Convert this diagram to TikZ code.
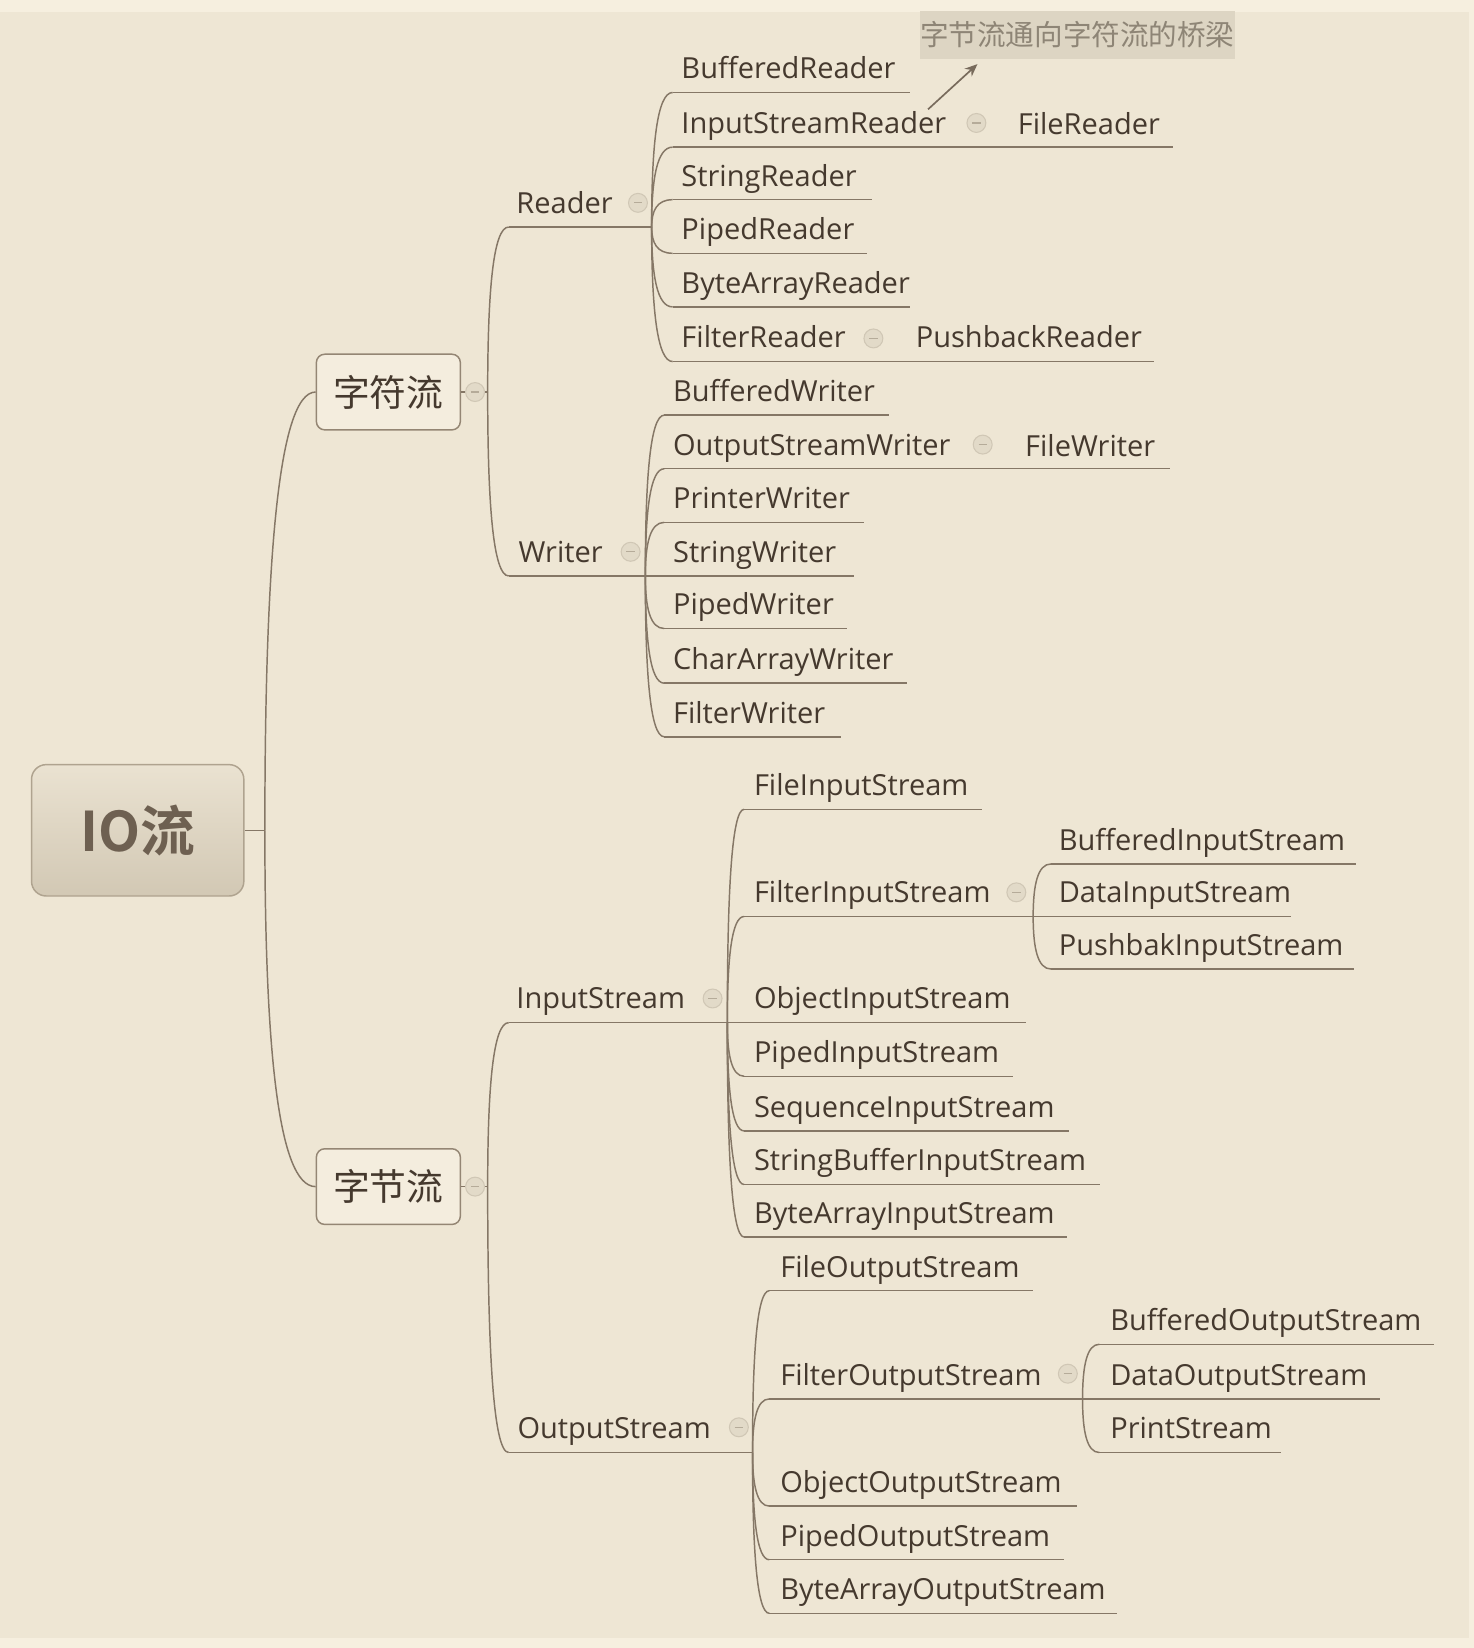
\documentclass[tikz,border=0pt]{standalone}
\usepackage{fontspec}
\setmainfont{Open Sans}
\newfontfamily\cjk{Noto Sans CJK SC}
\newfontfamily\cjkb{Noto Sans CJK SC Bold}
\usetikzlibrary{calc,arrows.meta}
\definecolor{bgc}{HTML}{EEE6D4}
\definecolor{stripc}{HTML}{F6EFDF}
\definecolor{linec}{HTML}{857766}
\definecolor{txtc}{HTML}{45392E}
\definecolor{anntxt}{HTML}{8E8576}
\definecolor{annbox}{HTML}{DDD5C3}
\definecolor{subfill}{HTML}{F4EDDE}
\definecolor{subdraw}{HTML}{948674}
\definecolor{roottop}{HTML}{EAE2D1}
\definecolor{rootbot}{HTML}{D2C8B4}
\definecolor{rootdraw}{HTML}{AFA38F}
\definecolor{roottxt}{HTML}{6E6051}
\definecolor{mkfill}{HTML}{E2DAC8}
\definecolor{mkdraw}{HTML}{D0C7B5}
\definecolor{mkminus}{HTML}{B5AB99}
\tikzset{
  conn/.style={draw=linec, line width=0.7pt},
  lbl/.style={anchor=base west, inner sep=0pt, text=txtc, font=\fontsize{13.8}{16}\selectfont},
  subbox/.style={draw=subdraw, fill=subfill, rounded corners=4pt, line width=0.7pt,
    minimum width=68.5pt, minimum height=36pt, inner sep=0pt, text=txtc,
    font=\cjk\fontsize{17.5}{20}\selectfont},
  minusmark/.style={circle, fill=mkfill, draw=mkdraw, line width=0.5pt, minimum size=9pt, inner sep=0pt,
    path picture={\draw[mkminus, line width=0.6pt] ($(path picture bounding box.center)+(-2pt,0)$) -- ++(4pt,0);}},
}
\newcommand\curv[2]{\draw[conn] (#1) .. controls ($(#1)!0.6!(#1|-#2)$) and ($(#1|-#2)!0.25!(#2)$) .. (#2);}
% #1 name, #2 junction, #3 y, #4 xs, #5 xe, #6 text x, #7 text
\newcommand\leaf[7]{%
  \coordinate (#1-s) at (#4,#3);
  \coordinate (#1-e) at (#5,#3);
  \node[lbl] (#1) at (#6,#3-13) {#7};
  \curv{#2}{#1-s}
  \draw[conn] (#1-s) -- (#1-e);
}
\begin{document}
\begin{tikzpicture}[x=0.5pt,y=-0.5pt]
\useasboundingbox (0,0) rectangle (1402,1568);
\fill[stripc] (0,0) rectangle (1402,1568);
\fill[bgc] (0,11) rectangle (1398,1558);

% root
\node[draw=rootdraw, top color=roottop, bottom color=rootbot, rounded corners=7pt, line width=0.7pt,
  minimum width=101pt, minimum height=62.5pt, inner sep=0pt, text=roottxt,
  font=\cjkb\fontsize{26}{30}\selectfont] (root) at (131,790) {IO流};
\coordinate (J0) at (252,790);
\draw[conn] (root.east) -- (J0);

\node[subbox] (zf) at (369.5,373) {字符流};
\node[subbox] (zj) at (369.5,1129) {字节流};
\curv{J0}{zf.west}
\curv{J0}{zj.west}

% 字符流
\coordinate (J1) at (464,373);
\draw[conn] (zf.east) -- (J1);
\node[minusmark] (m1) at (452,373) {};
\leaf{R}{J1}{216}{484}{620}{491}{Reader}
\leaf{W}{J1}{548}{484}{614}{493}{Writer}
\node[minusmark] (mR) at (607,193) {};
\node[minusmark] (mW) at (600,525) {};

% Reader children
\coordinate (JR) at (620,216);
\leaf{BR}{JR}{88}{640}{866}{648}{BufferedReader}
\leaf{ISR}{JR}{140}{640}{950}{648}{InputStreamReader}
\leaf{SR}{JR}{190}{640}{830}{648}{StringReader}
\leaf{PR}{JR}{241}{640}{825}{648}{PipedReader}
\leaf{BAR}{JR}{292}{640}{866}{648}{ByteArrayReader}
\leaf{FR}{JR}{344}{640}{855}{648}{FilterReader}
\node[lbl] (FileR) at (968,128) {FileReader};
\coordinate (FileR-e) at (1116,140);
\draw[conn] (ISR-e) -- (FileR-e);
\node[minusmark] (mISR) at (929,117) {};
\node[lbl] (PBR) at (871,331) {PushbackReader};
\coordinate (PBR-e) at (1098,344);
\draw[conn] (FR-e) -- (PBR-e);
\node[minusmark] (mFR) at (831,322) {};

% Writer children
\coordinate (JW) at (614,548);
\leaf{BW}{JW}{395}{632}{846}{640}{BufferedWriter}
\leaf{OSW}{JW}{446}{632}{955}{640}{OutputStreamWriter}
\leaf{PW}{JW}{497}{632}{822}{640}{PrinterWriter}
\leaf{SW}{JW}{548}{632}{813}{640}{StringWriter}
\leaf{PiW}{JW}{598}{632}{806}{640}{PipedWriter}
\leaf{CAW}{JW}{650}{632}{863}{640}{CharArrayWriter}
\leaf{FW}{JW}{701}{632}{800}{640}{FilterWriter}
\node[lbl] (FileW) at (975,434) {FileWriter};
\coordinate (FileW-e) at (1113,446);
\draw[conn] (OSW-e) -- (FileW-e);
\node[minusmark] (mOSW) at (935,423) {};

% 字节流
\coordinate (J2) at (464,1129);
\draw[conn] (zj.east) -- (J2);
\node[minusmark] (m2) at (452,1129) {};
\leaf{IS}{J2}{973}{484}{692}{491}{InputStream}
\leaf{OS}{J2}{1382}{484}{716}{492}{OutputStream}
\node[minusmark] (mIS) at (678,950) {};
\node[minusmark] (mOS) at (703,1358) {};

% InputStream children
\coordinate (JI) at (692,973);
\leaf{FIS}{JI}{770}{708}{934}{717}{FileInputStream}
\leaf{FiIS}{JI}{872}{708}{983}{717}{FilterInputStream}
\leaf{OIS}{JI}{973}{708}{976}{717}{ObjectInputStream}
\leaf{PIS}{JI}{1024}{708}{964}{717}{PipedInputStream}
\leaf{SIS}{JI}{1076}{708}{1017}{717}{SequenceInputStream}
\leaf{SBIS}{JI}{1127}{708}{1047}{717}{StringBufferInputStream}
\leaf{BAIS}{JI}{1177}{708}{1015}{717}{ByteArrayInputStream}
\node[minusmark] (mFiIS) at (967,849) {};
\coordinate (JF) at (983,872);
\leaf{BIS}{JF}{822}{1000}{1290}{1007}{BufferedInputStream}
\leaf{DIS}{JF}{872}{1000}{1228}{1007}{DataInputStream}
\leaf{PbIS}{JF}{922}{1000}{1288}{1007}{PushbakInputStream}

% OutputStream children
\coordinate (JO) at (716,1382);
\leaf{FOS}{JO}{1228}{732}{983}{742}{FileOutputStream}
\leaf{FiOS}{JO}{1331}{732}{1030}{742}{FilterOutputStream}
\leaf{OOS}{JO}{1433}{732}{1025}{742}{ObjectOutputStream}
\leaf{POS}{JO}{1484}{732}{1012}{742}{PipedOutputStream}
\leaf{BAOS}{JO}{1535}{732}{1063}{742}{ByteArrayOutputStream}
\node[minusmark] (mFiOS) at (1016,1307) {};
\coordinate (JFO) at (1030,1331);
\leaf{BOS}{JFO}{1279}{1046}{1364}{1056}{BufferedOutputStream}
\leaf{DOS}{JFO}{1331}{1046}{1313}{1056}{DataOutputStream}
\leaf{PS}{JFO}{1382}{1046}{1219}{1056}{PrintStream}

% annotation
\node[fill=annbox, minimum width=150pt, minimum height=23pt, inner sep=0pt, text=anntxt,
  font=\cjk\fontsize{13.6}{16}\selectfont] (ann) at (1025,33) {字节流通向字符流的桥梁};
\coordinate (arrS) at (883,104);
\coordinate (arrE) at (930,61);
\draw[draw=linec!90!black, line width=0.8pt, -{Stealth[length=6pt,width=5pt]}] (arrS) -- (arrE);
\end{tikzpicture}
\end{document}
